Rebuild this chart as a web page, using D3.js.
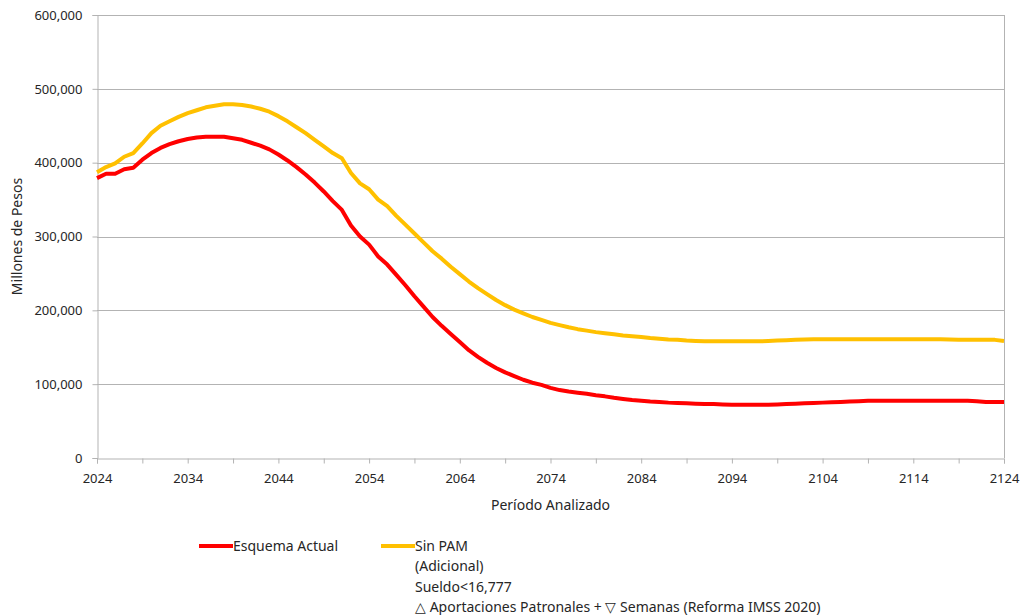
<!DOCTYPE html>
<html>
<head>
<meta charset="utf-8">
<script src="https://cdn.jsdelivr.net/npm/d3@7"></script>
<style>
  html, body { margin: 0; padding: 0; background: #fff; }
  svg { display: block; font-family: "Segoe UI", "Noto Sans", "Open Sans", sans-serif; }
</style>
</head>
<body>
<svg id="chart" width="1020" height="615"></svg>
<script>
const years = [
  2024,2025,2026,2027,2028,2029,2030,2031,2032,2033,
  2034,2035,2036,2037,2038,2039,2040,2041,2042,2043,
  2044,2045,2046,2047,2048,2049,2050,2051,2052,2053,
  2054,2055,2056,2057,2058,2059,2060,2061,2062,2063,
  2064,2065,2066,2067,2068,2069,2070,2071,2072,2073,
  2074,2075,2076,2077,2078,2079,2080,2081,2082,2083,
  2084,2085,2086,2087,2088,2089,2090,2091,2092,2093,
  2094,2095,2096,2097,2098,2099,2100,2101,2102,2103,
  2104,2105,2106,2107,2108,2109,2110,2111,2112,2113,
  2114,2115,2116,2117,2118,2119,2120,2121,2122,2123,
  2124
];

const esquemaActual = [
  379000,385000,385000,391000,393000,404000,413000,420000,425000,429000,
  432000,434000,435000,435000,435000,433000,431000,427000,423000,418000,
  411000,403000,394000,384000,373000,361000,348000,336000,315000,300000,
  289000,273000,262000,248000,234000,219000,205000,191000,179000,168000,
  157000,146000,137000,129000,122000,116000,111000,106000,102000,99000,
  95000,92000,90000,88500,87000,85000,83500,81500,80000,78500,
  77500,76500,76000,75000,74500,74000,73500,73200,73000,72500,
  72000,72000,72000,72000,72000,72500,73000,73500,74000,74500,
  75000,75500,76000,76500,77000,77500,77500,77500,77500,77500,
  77500,77500,77500,77500,77500,77500,77500,77000,76000,76000,
  76000
];

const sinPAM = [
  387000,394000,399000,408000,413000,426000,440000,450000,456000,462000,
  467000,471000,475000,477000,479000,479000,478000,476000,473000,469000,
  463000,456000,448000,440000,431000,422000,413000,406000,386000,372000,
  364000,350000,341000,328000,316000,304000,292000,280000,270000,259000,
  249000,239000,230000,222000,214000,207000,201000,196000,191000,187000,
  183000,180000,177000,174500,172500,170500,169000,167500,166000,165000,
  164000,162500,161500,160500,160000,159000,158500,158000,158000,158000,
  158000,158000,158000,158000,158500,159000,159500,160000,160500,161000,
  161000,161000,161000,161000,161000,161000,161000,161000,161000,161000,
  161000,161000,161000,161000,160500,160000,160000,160000,160000,160000,
  158500
];

const yTicks = [0, 100000, 200000, 300000, 400000, 500000, 600000];
const xLabelYears = [2024, 2034, 2044, 2054, 2064, 2074, 2084, 2094, 2104, 2114, 2124];
const xMinorYears = [2024,2029,2034,2039,2044,2049,2054,2059,2064,2069,2074,2079,2084,2089,2094,2099,2104,2109,2114,2119,2124];

const seriesNames = ["Esquema Actual", "Sin PAM"];
const seriesColors = ["#ff0000", "#ffc000"];
const legendLinesSinPAM = ["Sin PAM", "(Adicional)", "Sueldo<16,777", "\u25B3 Aportaciones Patronales + \u25BD Semanas (Reforma IMSS 2020)"];

const svg = d3.select("#chart");
const L = 97, R = 1004, T = 15, B = 458;

const x = d3.scaleLinear().domain([2024, 2124]).range([L, R]);
const y = d3.scaleLinear().domain([0, 600000]).range([B, T]);

const gridColor = "#b3b3b3";
const textColor = "#262626";

// gridlines
svg.append("g").selectAll("line").data(yTicks.filter(d => d > 0)).join("line")
  .attr("x1", L).attr("x2", R)
  .attr("y1", d => Math.round(y(d)) + 0.5).attr("y2", d => Math.round(y(d)) + 0.5)
  .attr("stroke", gridColor).attr("stroke-width", 1);

// right border
svg.append("line").attr("x1", R + 0.5).attr("x2", R + 0.5).attr("y1", T).attr("y2", B)
  .attr("stroke", gridColor).attr("stroke-width", 1);

// y axis
const yAxis = d3.axisLeft(y).tickValues(yTicks).tickSize(5).tickPadding(10)
  .tickFormat(d3.format(","));
const gy = svg.append("g").attr("transform", `translate(${L + 0.5},0)`).call(yAxis);
gy.select(".domain").attr("stroke", gridColor);
gy.selectAll(".tick line").attr("stroke", gridColor);
gy.selectAll(".tick text").attr("fill", textColor).style("font-size", "13px")
  .style("font-family", "'Segoe UI', 'Noto Sans', sans-serif");

// x axis
const xAxis = d3.axisBottom(x).tickValues(xMinorYears).tickSize(5).tickPadding(10)
  .tickFormat(d => xLabelYears.includes(d) ? String(d) : "");
const gx = svg.append("g").attr("transform", `translate(0,${B + 0.5})`).call(xAxis);
gx.select(".domain").attr("stroke", gridColor);
gx.selectAll(".tick line").attr("stroke", gridColor);
gx.selectAll(".tick text").attr("fill", textColor).style("font-size", "13px")
  .style("font-family", "'Segoe UI', 'Noto Sans', sans-serif");

// axis titles
svg.append("text").attr("transform", `translate(22,${(T + B) / 2}) rotate(-90)`)
  .attr("text-anchor", "middle").attr("fill", textColor).style("font-size", "14px")
  .text("Millones de Pesos");
svg.append("text").attr("x", (L + R) / 2).attr("y", 510)
  .attr("text-anchor", "middle").attr("fill", textColor).style("font-size", "14px")
  .text("Período Analizado");

// lines
const line = d3.line().x((d, i) => x(years[i])).y(d => y(d));
[esquemaActual, sinPAM].forEach((s, k) => {
  svg.append("path").datum(s)
    .attr("fill", "none").attr("stroke", seriesColors[k]).attr("stroke-width", 4)
    .attr("stroke-linejoin", "round").attr("stroke-linecap", "butt")
    .attr("d", line);
});

// legend
const lg = svg.append("g");
lg.append("line").attr("x1", 199).attr("x2", 233).attr("y1", 546).attr("y2", 546)
  .attr("stroke", seriesColors[0]).attr("stroke-width", 4);
lg.append("text").attr("x", 233).attr("y", 551).attr("fill", textColor).style("font-size", "14px")
  .text(seriesNames[0]);
lg.append("line").attr("x1", 381).attr("x2", 415).attr("y1", 546).attr("y2", 546)
  .attr("stroke", seriesColors[1]).attr("stroke-width", 4);
legendLinesSinPAM.forEach((t, i) => {
  lg.append("text").attr("x", 415).attr("y", 551 + i * 20.3).attr("fill", textColor)
    .style("font-size", "14px").text(t);
});
</script>
</body>
</html>
